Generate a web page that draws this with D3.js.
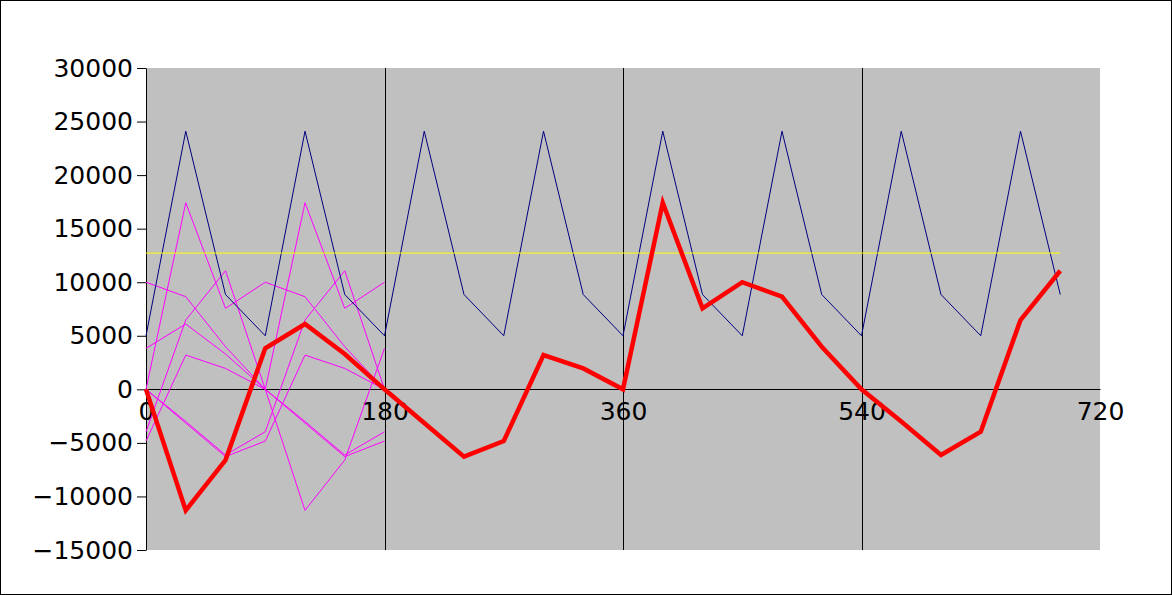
<!DOCTYPE html>
<html lang="en">
  <head>
    <meta charset="utf-8" />
    <title>Waveform chart</title>
    <script src="https://d3js.org/d3.v7.min.js"></script>
    <style>
      body { margin: 0; background: #fff; }
      svg { display: block; font-family: "DejaVu Sans", sans-serif; }
    </style>
  </head>
  <body>
    <div id="my_dataviz"></div>
    <script>
      // angles (degrees) every 30
      const angles = [0,30,60,90,120,150,180,210,240,270,300,330,360,390,420,450,480,510,540,570,600,630,660,690];
      const partAngles = [0,30,60,90,120,150,180];

      // thin magenta parts (0..180)
      const part1 = [0,-11300,-6600,3830,6100,3300,0];
      const part2 = [0,-3150,-6280,-4830,3200,1950,0];
      const part3 = [0,17420,7560,10000,8650,3980,0];
      const part4 = [0,-3000,-6130,-3960,6470,11070,0];
      const part1b = [3830,6100,3300,0,-11300,-6600,3830];
      const part2b = [-4830,3200,1950,0,-3150,-6280,-4830];
      const part3b = [10000,8650,3980,0,17420,7560,10000];
      const part4b = [-3960,6470,11070,0,-3000,-6130,-3960];

      // navy series
      const total = [5000,24100,8850,5000,24100,8850,5000,24100,8850,5000,24100,8850,
                     5000,24100,8850,5000,24100,8850,5000,24100,8850,5000,24100,8850];
      // yellow average
      const average = [12720,12720,12720,12720,12720,12720,12720,12720,12720,12720,12720,12720,
                       12720,12720,12720,12720,12720,12720,12720,12720,12720,12720,12720,12720];
      // thick red series
      const result = [0,-11300,-6600,3830,6100,3300,0,-3150,-6280,-4830,3200,1950,
                      0,17420,7560,10000,8650,3980,0,-3000,-6130,-3960,6470,11070];

      const xTicks = [0,180,360,540,720];
      const yTicks = [-15000,-10000,-5000,0,5000,10000,15000,20000,25000,30000];

      const W = 1172, H = 595;
      const margin = {top: 68, right: 72, bottom: 45, left: 146};
      const width = W - margin.left - margin.right,
            height = H - margin.top - margin.bottom;

      const svg = d3.select("#my_dataviz")
        .append("svg")
          .attr("width", W)
          .attr("height", H);

      // outer frame
      svg.append("rect")
        .attr("x", 0.5).attr("y", 0.5)
        .attr("width", W - 1).attr("height", H - 1)
        .attr("fill", "#fff").attr("stroke", "#000");

      const g = svg.append("g")
        .attr("transform", `translate(${margin.left}, ${margin.top})`);

      const x = d3.scaleLinear().domain([0, 720]).range([0, width]);
      const y = d3.scaleLinear().domain([-15000, 30000]).range([height, 0]);

      // plot background
      g.append("rect")
        .attr("width", width).attr("height", height)
        .attr("fill", "#c0c0c0");

      // vertical grid lines
      g.selectAll("line.vgrid")
        .data([180, 360, 540])
        .join("line")
          .attr("class", "vgrid")
          .attr("x1", d => Math.round(x(d)) + 0.5).attr("x2", d => Math.round(x(d)) + 0.5)
          .attr("y1", 0).attr("y2", height)
          .attr("stroke", "#000");

      // y axis
      const yAxis = g.append("g")
        .call(d3.axisLeft(y).tickValues(yTicks).tickFormat(d3.format("d"))
          .tickSize(9).tickPadding(4).tickSizeOuter(0));
      yAxis.select(".domain").attr("stroke", "#000");
      yAxis.selectAll("text").style("font-size", "25px").attr("fill", "#000")
        .style("font-family", "'DejaVu Sans', sans-serif");

      // x axis along zero
      const xAxis = g.append("g")
        .attr("transform", `translate(0, ${Math.round(y(0))})`)
        .call(d3.axisBottom(x).tickValues(xTicks).tickSize(0).tickPadding(13).tickSizeOuter(0));
      xAxis.select(".domain").attr("stroke", "#000");
      xAxis.selectAll("text").style("font-size", "25px").attr("fill", "#000")
        .style("font-family", "'DejaVu Sans', sans-serif");

      const line = d3.line()
        .x(d => x(d[0]))
        .y(d => y(d[1]));

      function drawSeries(xs, ys, color, w) {
        g.append("path")
          .datum(xs.map((a, i) => [a, ys[i]]))
          .attr("fill", "none")
          .attr("stroke", color)
          .attr("stroke-width", w)
          .attr("stroke-linejoin", "miter")
          .attr("d", line);
      }

      [part1, part2, part3, part4, part1b, part2b, part3b, part4b].forEach(p => {
        drawSeries(partAngles, p, "#ff00ff", 1);
      });
      drawSeries(angles, total, "#000080", 1);
      drawSeries(angles, average, "#ffff00", 1);
      drawSeries(angles, result, "#ff0000", 4.5);
    </script>
  </body>
</html>
